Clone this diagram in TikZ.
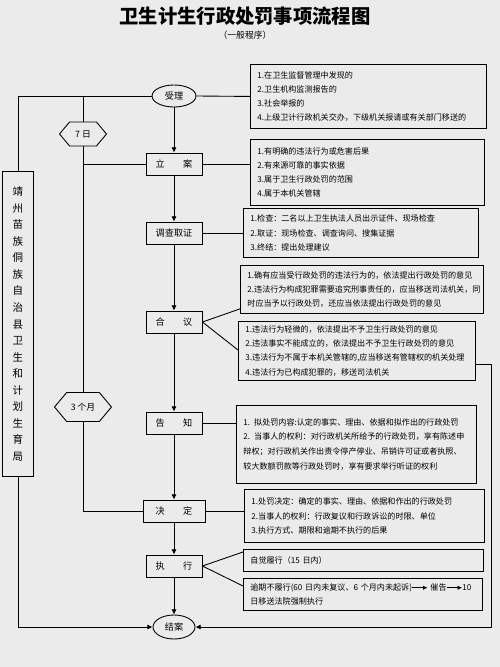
\documentclass[tikz,border=0pt]{standalone}
\usepackage{fontspec}
\setmainfont{Noto Sans CJK SC}
\usetikzlibrary{shapes.geometric,shapes.symbols,arrows.meta}

\tikzset{
  flowbox/.style={draw, minimum width=1.12cm, minimum height=0.44cm, inner sep=1pt, font=\fontsize{5.2}{6}\selectfont},
  flowend/.style={draw, ellipse, inner sep=1pt, font=\fontsize{5.2}{6}\selectfont},
  infobox/.style={draw, anchor=north west, align=left, inner xsep=0.14cm, inner ysep=0.05cm, font=\fontsize{4.6}{8}\selectfont},
  limitbox/.style={draw, signal, signal to=east and west, signal pointer angle=100, inner sep=1pt, font=\fontsize{5}{6}\selectfont},
  arr/.style={-{Latex[length=3pt,width=3pt]}}
}
\newcommand{\tarrow}{\tikz[baseline=-0.6ex]\draw[-{Latex[length=2.5pt,width=2.5pt]}] (0,0) -- (0.3cm,0);}

\begin{document}
\begin{tikzpicture}[x=0.02cm,y=-0.02cm,line width=0.5pt]
\def\mainx{174};
\fill[black!8] (0,0) rectangle (500,667);
\useasboundingbox (0,0) rectangle (500,667);
%\draw[help lines,step=50] (0,0) grid (500,667);

\node[font=\bfseries\fontsize{11}{13}\selectfont] (title) at (245,16) {卫生计生行政处罚事项流程图};
\node[font=\fontsize{5}{6}\selectfont] (subtitle) at (245,35) {（一般程序）};

% main column
\node[flowend, minimum width=0.88cm, minimum height=0.44cm] (shouli) at (\mainx,96) {受理};
\node[flowbox] (lian) at (\mainx,164) {立\hspace{2em}案};
\node[flowbox] (diaocha) at (\mainx,233) {调查取证};
\node[flowbox] (heyi) at (\mainx,322) {合\hspace{2em}议};
\node[flowbox] (gaozhi) at (\mainx,423) {告\hspace{2em}知};
\node[flowbox, minimum width=1.24cm] (jueding) at (\mainx,511) {决\hspace{2em}定};
\node[flowbox] (zhixing) at (\mainx,566) {执\hspace{2em}行};
\node[flowend, minimum width=0.84cm, minimum height=0.48cm] (jiean) at (\mainx,627) {结案};

% time limits and organ
\node[limitbox, minimum width=0.94cm, minimum height=0.48cm] (d7) at (83,134) {7 日};
\node[limitbox, minimum width=1.14cm, minimum height=0.58cm] (d3m) at (83,407) {3 个月};
\node[draw, minimum width=0.62cm, minimum height=6.1cm, align=center, font=\fontsize{6}{9.4}\selectfont] (org) at (18,324) {靖\\州\\苗\\族\\侗\\族\\自\\治\\县\\卫\\生\\和\\计\\划\\生\\育\\局};

% right hand notes
\node[infobox, text width=4.44cm, minimum width=4.72cm, minimum height=1.28cm] (b1) at (250,64)
  {1.在卫生监督管理中发现的\\2.卫生机构监测报告的\\3.社会举报的\\4.上级卫计行政机关交办，下级机关报请或有关部门移送的};
\node[infobox, text width=4.40cm, minimum width=4.68cm, minimum height=1.32cm] (b2) at (250,139)
  {1.有明确的违法行为或危害后果\\2.有来源可靠的事实依据\\3.属于卫生行政处罚的范围\\4.属于本机关管辖};
\node[infobox, text width=4.42cm, minimum width=4.70cm, minimum height=0.98cm] (b3) at (243,208)
  {1.检查：二名以上卫生执法人员出示证件、现场检查\\2.取证：现场检查、调查询问、搜集证据\\3.终结：提出处理建议};
\node[infobox, text width=4.58cm, minimum width=4.86cm, minimum height=0.96cm] (b4) at (240,265)
  {1.确有应当受行政处罚的违法行为的，依法提出行政处罚的意见\\2.违法行为构成犯罪需要追究刑事责任的，应当移送司法机关，同\\时应当予以行政处罚，还应当依法提出行政处罚的意见};
\node[infobox, text width=4.46cm, minimum width=4.74cm, minimum height=1.18cm] (b5) at (238,321)
  {1.违法行为轻微的，依法提出不予卫生行政处罚的意见\\2.违法事实不能成立的，依法提出不予卫生行政处罚的意见\\3.违法行为不属于本机关管辖的,应当移送有管辖权的机关处理\\4.违法行为已构成犯罪的，移送司法机关};
\node[infobox, text width=4.52cm, minimum width=4.80cm, minimum height=1.56cm, font=\fontsize{4.6}{8.5}\selectfont] (b6) at (236,405)
  {1. 拟处罚内容:认定的事实、理由、依据和拟作出的行政处罚\\2. 当事人的权利：对行政机关所给予的行政处罚，享有陈述申\\辩权；对行政机关作出责令停产停业、吊销许可证或者执照、\\较大数额罚款等行政处罚时，享有要求举行听证的权利\\[4pt]};
\node[infobox, text width=4.52cm, minimum width=4.80cm, minimum height=1.06cm] (b7) at (244,489)
  {1.处罚决定：确定的事实、理由、依据和作出的行政处罚\\2.当事人的权利：行政复议和行政诉讼的时限、单位\\3.执行方式、期限和逾期不执行的后果};
\node[infobox, text width=4.52cm, minimum width=4.80cm, minimum height=0.44cm] (b8) at (243,549)
  {自觉履行（15 日内）};
\node[infobox, text width=4.50cm, minimum width=4.78cm, minimum height=0.64cm] (b9) at (243,578)
  {逾期不履行(60 日内未复议、6 个月内未起诉)\tarrow\ 催告\tarrow 10\\日移送法院强制执行};

% main flow
\draw[arr] (shouli) -- (lian);
\draw[arr] (lian) -- (diaocha);
\draw[arr] (diaocha) -- (heyi);
\draw[arr] (heyi) -- (gaozhi);
\draw[arr] (gaozhi) -- (jueding);
\draw[arr] (jueding) -- (zhixing);
\draw[arr] (zhixing) -- (jiean);

% links to the notes
\draw (shouli.east) -- (b1.west);
\draw (lian.east) -- (lian.east -| b2.west);
\draw (diaocha.east) -- (diaocha.east -| b3.west);
\draw (heyi.east) -- ([yshift=0.1cm]b4.south west);
\draw (heyi.east) -- ([yshift=-0.58cm]b5.north west);
\draw (gaozhi.east) -- (gaozhi.east -| b6.west);
\draw (jueding.east) -- (jueding.east -| b7.west);
\draw (zhixing.east) -- ([yshift=-0.06cm]b8.north west);
\draw (zhixing.east) -- ([yshift=-0.16cm]b9.north west);

% left loop and limits
\draw (shouli.west) -| (org.north);
\draw (d7.north) -- (d7.north |- shouli.west);
\draw (d7.south) |- (lian.west);
\draw (d7.south) -- (d3m.north);
\draw (d3m.south) |- (jueding.west);
\draw[arr] (org.south) |- (jiean.west);
\draw[arr] ([yshift=0.32cm]b5.south east) -- ++(16,0) |- (jiean.east);

\end{tikzpicture}
\end{document}
